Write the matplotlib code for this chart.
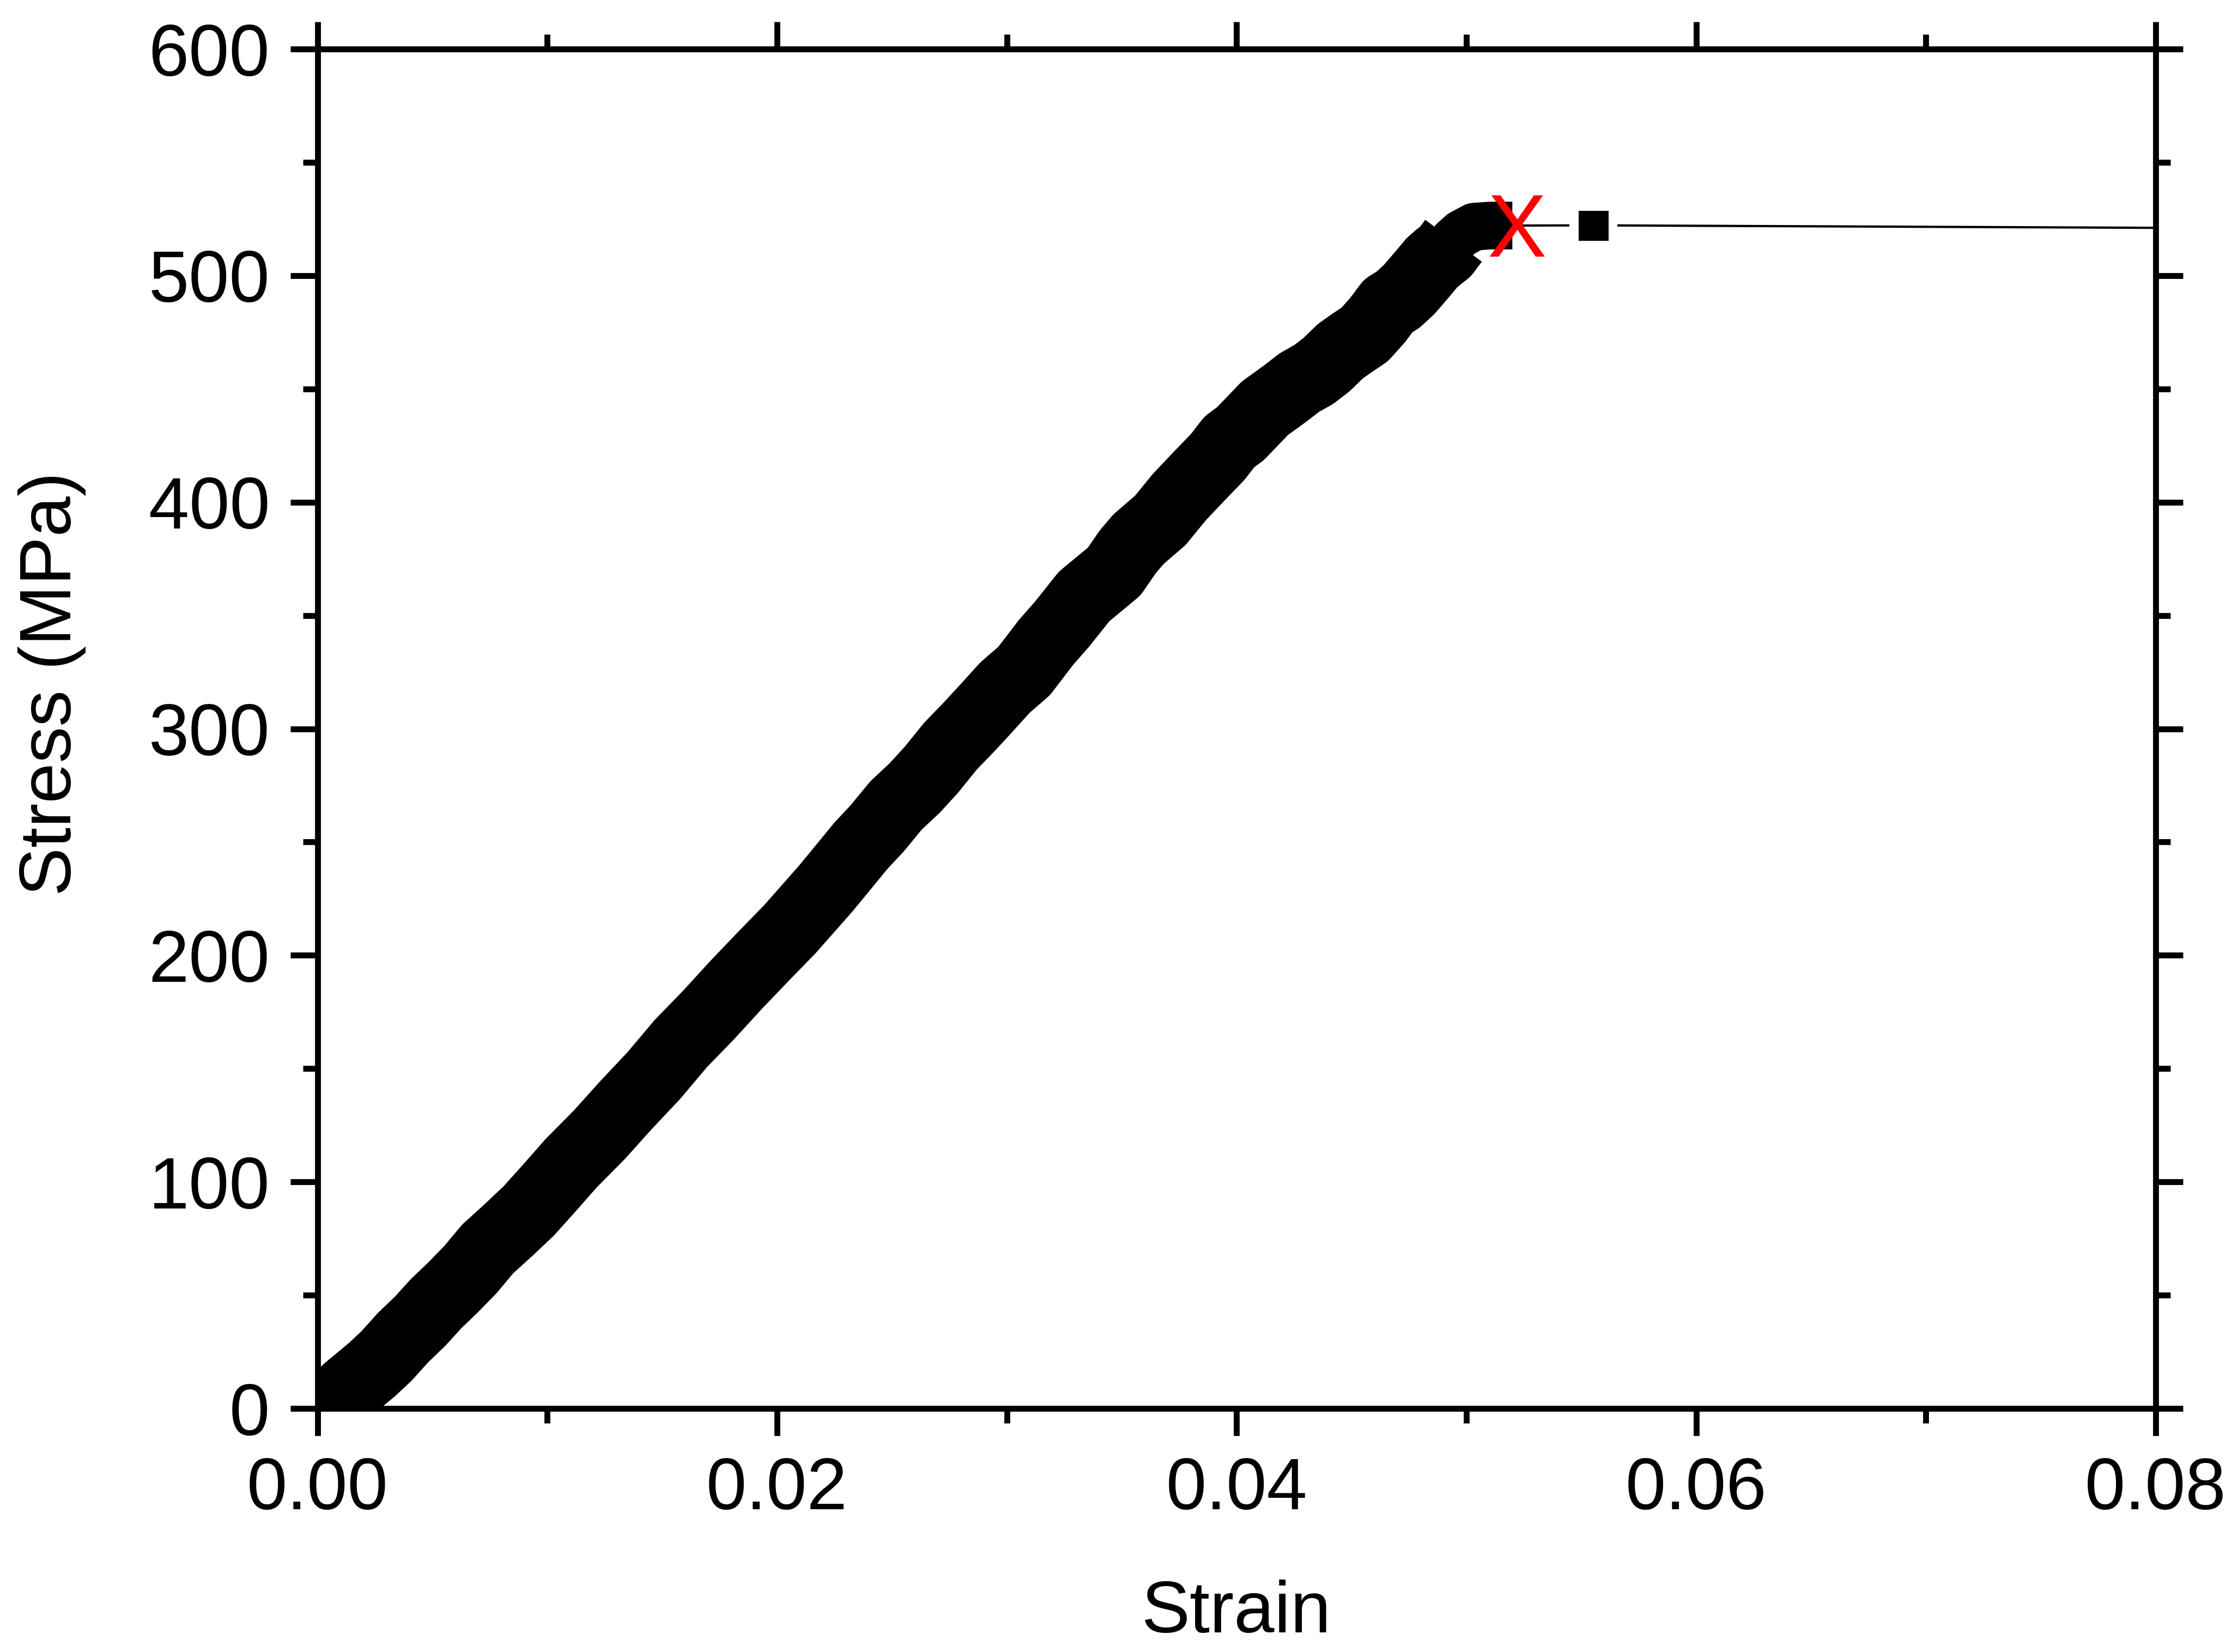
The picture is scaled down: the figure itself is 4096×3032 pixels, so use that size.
import numpy as np
from matplotlib import pyplot as plt
from matplotlib.ticker import MultipleLocator, FormatStrFormatter

############# data ###########################################################
strain = np.array([0.0000, 0.0004, 0.0007, 0.0013, 0.00238, 0.00301, 0.00372,
                   0.00447, 0.00515, 0.00590, 0.00665, 0.00740, 0.00827,
                   0.00918, 0.01012, 0.01103, 0.01226, 0.01344, 0.01463,
                   0.01582, 0.01700, 0.01820, 0.01937, 0.02056, 0.02210,
                   0.02293, 0.02364, 0.02435, 0.02518, 0.02601, 0.02672,
                   0.02755, 0.02838, 0.02909, 0.02992, 0.03075, 0.03170,
                   0.03241, 0.03336, 0.03467, 0.03526, 0.03573, 0.03668,
                   0.03751, 0.03834, 0.03917, 0.03968, 0.04016, 0.04059,
                   0.04123, 0.04174, 0.04217, 0.04273, 0.04336, 0.04391,
                   0.04451, 0.04498, 0.04557, 0.04612, 0.04660, 0.04703,
                   0.04751, 0.04802, 0.04850, 0.04877, 0.04909, 0.04944,
                   0.04979, 0.05034, 0.05102, 0.05200])
stress = np.array([0.0, 0.5, 2.0, 8.2, 17.3, 23.3, 31.3,
                   38.6, 46.2, 53.5, 61.3, 70.4, 78.4,
                   87.1, 97.7, 108.2, 120.8, 134.1, 146.9,
                   161.2, 173.5, 186.8, 199.2, 211.6, 229.3,
                   239.5, 248.3, 256.0, 266.2, 274.1, 282.0,
                   292.4, 301.1, 308.9, 318.2, 325.5, 338.1,
                   346.3, 358.4, 369.4, 378.1, 383.7, 392.0,
                   402.3, 411.2, 419.9, 426.6, 430.2, 434.7,
                   441.5, 445.2, 448.4, 452.8, 456.4, 460.7,
                   466.6, 470.0, 474.0, 480.2, 486.7, 489.4,
                   493.9, 499.9, 505.7, 508.1, 510.6, 515.4,
                   518.6, 521.6, 522.1, 522.1])

# after fracture
tail_strain = np.array([0.05200, 0.05552, 0.08])
tail_stress = np.array([522.1, 522.2, 521.1])
##############################################################################

plt.rcParams['font.family'] = 'Liberation Sans'

fig = plt.figure(figsize=(4096 / 300, 3032 / 300), dpi=300)
ax = fig.add_axes([0.1423, 0.1474, 0.8235, 0.8229])

# thin line after failure, with gaps round the square
ax.plot(tail_strain, tail_stress, color='k', lw=1.0, zorder=2)
ax.plot(tail_strain[1], tail_stress[1], 's', ms=21, color='white', mew=0, zorder=3)
ax.plot(tail_strain[1], tail_stress[1], 's', ms=13.2, color='k', mew=0, zorder=4)

# the loading curve (dense square symbols -> thick band)
ax.plot(strain, stress, color='k', lw=21, solid_joinstyle='round',
        solid_capstyle='butt', zorder=3)
thick = strain <= 0.0495
ax.plot(strain[thick], stress[thick], color='k', lw=31,
        solid_joinstyle='round', solid_capstyle='butt', zorder=3)

# failure mark
ax.annotate('X', (strain[-1], stress[-1]), xytext=(2, -3.5),
            textcoords='offset points', ha='center', va='center',
            color='red', fontsize=39, zorder=5)

ax.set_xlim(0, 0.08)
ax.set_ylim(0, 600)
ax.xaxis.set_major_locator(MultipleLocator(0.02))
ax.xaxis.set_minor_locator(MultipleLocator(0.01))
ax.yaxis.set_major_locator(MultipleLocator(100))
ax.yaxis.set_minor_locator(MultipleLocator(50))
ax.xaxis.set_major_formatter(FormatStrFormatter('%.2f'))
ax.yaxis.set_major_formatter(FormatStrFormatter('%d'))

ax.tick_params(which='both', direction='out', top=True, right=True,
               width=2.6, labelsize=32, pad=9)
ax.tick_params(which='major', length=12)
ax.tick_params(which='minor', length=6.5)
for s in ax.spines.values():
    s.set_linewidth(2.6)

ax.set_xlabel('Strain', fontsize=32)
ax.set_ylabel('Stress (MPa)', fontsize=32)
ax.xaxis.set_label_coords(0.5, -0.126)
ax.yaxis.set_label_coords(-0.126, 0.533)

fig.savefig('out.png', dpi=300)
